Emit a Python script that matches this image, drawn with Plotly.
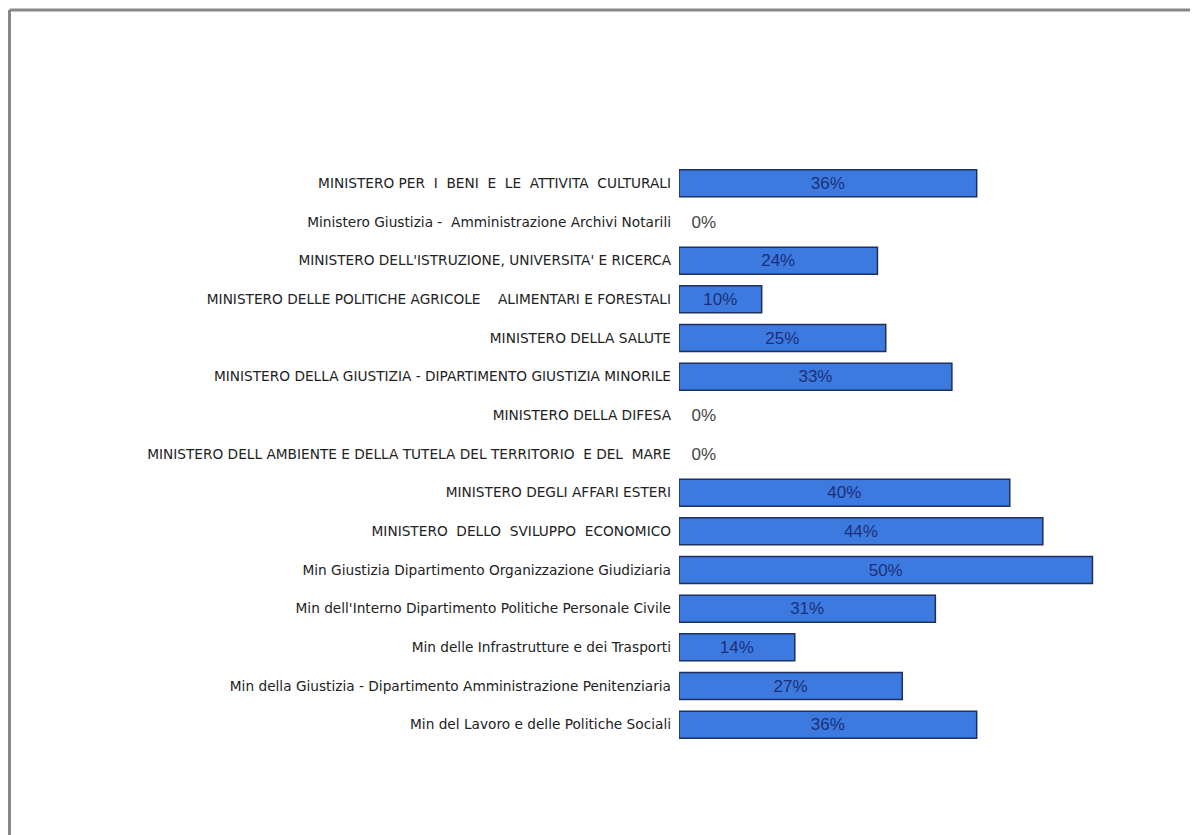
import plotly.graph_objects as go

categories = [
    "MINISTERO PER  I  BENI  E  LE  ATTIVITA  CULTURALI",
    "Ministero Giustizia -  Amministrazione Archivi Notarili",
    "MINISTERO DELL'ISTRUZIONE, UNIVERSITA' E RICERCA",
    "MINISTERO DELLE POLITICHE AGRICOLE    ALIMENTARI E FORESTALI",
    "MINISTERO DELLA SALUTE",
    "MINISTERO DELLA GIUSTIZIA - DIPARTIMENTO GIUSTIZIA MINORILE",
    "MINISTERO DELLA DIFESA",
    "MINISTERO DELL AMBIENTE E DELLA TUTELA DEL TERRITORIO  E DEL  MARE",
    "MINISTERO DEGLI AFFARI ESTERI",
    "MINISTERO  DELLO  SVILUPPO  ECONOMICO",
    "Min Giustizia Dipartimento Organizzazione Giudiziaria",
    "Min dell'Interno Dipartimento Politiche Personale Civile",
    "Min delle Infrastrutture e dei Trasporti",
    "Min della Giustizia - Dipartimento Amministrazione Penitenziaria",
    "Min del Lavoro e delle Politiche Sociali",
]
values = [36, 0, 24, 10, 25, 33, 0, 0, 40, 44, 50, 31, 14, 27, 36]

W, H = 1198, 835
ml, mr, mt, mb = 671, 97, 156, 99

texts = [f"{v}%" if v > 0 else "\u00a0\u00a00%" for v in values]
positions = ["inside" if v > 0 else "outside" for v in values]
tcolors = ["#1c2f78" if v > 0 else "#444444" for v in values]
lwidths = [1.5 if v > 0 else 0 for v in values]

fig = go.Figure()
fig.add_trace(go.Bar(
    y=categories, x=values, orientation="h",
    marker=dict(color="#3c7ae0", line=dict(color="#1d2f5e", width=lwidths)),
    width=0.7,
    text=texts, textposition=positions, insidetextanchor="middle",
    textfont=dict(family="Liberation Sans Narrow, Liberation Sans, Arial", size=17, color=tcolors),
    cliponaxis=False,
))

pw = W - ml - mr
ph = H - mt - mb
x_left = (1.5 - ml) / pw
y_top = 1 + (mt - 2) / ph
fig.add_shape(type="line", xref="paper", yref="paper", x0=x_left, x1=(W - ml) / pw,
              y0=y_top, y1=y_top, line=dict(color="#888888", width=3))
fig.add_shape(type="line", xref="paper", yref="paper", x0=x_left, x1=x_left,
              y0=y_top, y1=-mb / ph, line=dict(color="#888888", width=3))

fig.update_layout(
    width=W, height=H,
    margin=dict(l=ml, r=mr, t=mt, b=mb),
    plot_bgcolor="white", paper_bgcolor="white",
    showlegend=False,
    xaxis=dict(range=[0, 52], visible=False, fixedrange=True),
    yaxis=dict(autorange="reversed", showgrid=False, showline=False, zeroline=False,
               ticks="", ticklabelstandoff=7,
               tickfont=dict(family="DejaVu Sans, Arial", size=13.7, color="#222222")),
)

fig.write_html("out.html")
